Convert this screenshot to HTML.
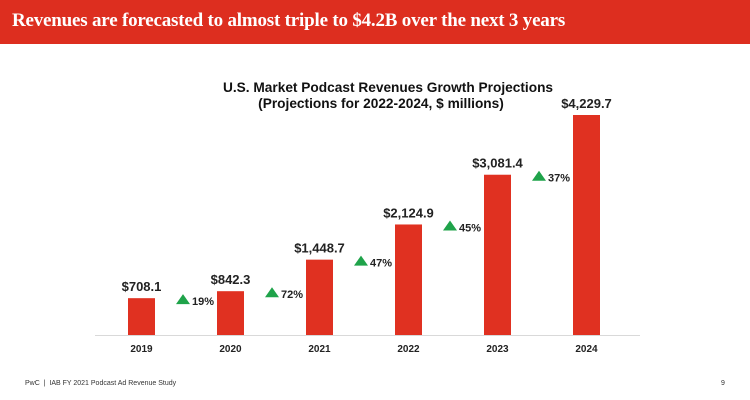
<!DOCTYPE html>
<html><head><meta charset="utf-8"><style>
body{margin:0;width:750px;height:400px;overflow:hidden;background:#fff;font-family:"Liberation Sans",sans-serif}
#hdr{position:absolute;left:0;top:0;width:750px;height:44px;background:#dd2e1f}
#hdr span{position:absolute;left:12px;top:10px;color:#fff;font-family:"Liberation Serif",serif;font-weight:bold;font-size:19px;letter-spacing:-0.2px}
.ft{position:absolute;top:380px;font-size:7px;color:#333}
</style></head><body>
<div id="hdr"><span>Revenues are forecasted to almost triple to $4.2B over the next 3 years</span></div>
<svg id="c" width="750" height="400" style="position:absolute;left:0;top:0">
<text x="388" y="92" text-anchor="middle" font-weight="bold" font-size="13.7" fill="#111">U.S. Market Podcast Revenues Growth Projections</text>
<text x="381" y="108" text-anchor="middle" font-weight="bold" font-size="13.7" fill="#111">(Projections for 2022-2024, $ millions)</text>
</svg>
<div class="ft" style="left:25px">PwC &nbsp;|&nbsp; IAB FY 2021 Podcast Ad Revenue Study</div>
<div class="ft" style="left:721px">9</div>
<script>
const categories=["2019","2020","2021","2022","2023","2024"];
const values=[708.1,842.3,1448.7,2124.9,3081.4,4229.7];
const valueLabels=["$708.1","$842.3","$1,448.7","$2,124.9","$3,081.4","$4,229.7"];
const growthLabels=["19%","72%","47%","45%","37%"];
const svg=document.getElementById('c');const NS='http://www.w3.org/2000/svg';
const base=335,scale=220/4229.7,x0=141.5,step=89,bw=27;
const xs=i=>x0+i*step, ys=v=>base-v*scale;
function mk(t,a){const e=document.createElementNS(NS,t);for(const k in a)e.setAttribute(k,a[k]);svg.appendChild(e);return e;}
const ax=mk('line',{x1:95,x2:640,y1:base+0.5,y2:base+0.5,stroke:'#d9d9d9'});


categories.forEach((c,i)=>{
 const r=mk('rect',{x:xs(i)-bw/2,y:ys(values[i]),width:bw,height:values[i]*scale,fill:'#e03121'});
 
 
 const l=mk('text',{x:xs(i),y:ys(values[i])-7,'text-anchor':'middle','font-weight':'bold','font-size':13,fill:'#222'});l.textContent=valueLabels[i];
 
 
 const t=mk('text',{x:xs(i),y:base+17,'text-anchor':'middle','font-weight':'bold','font-size':10,fill:'#222'});t.textContent=c;
 
 
});
growthLabels.forEach((g,i)=>{
 const cx=xs(i)+step/2-3,cy=ys(values[i])+6;
 const tr=mk('polygon',{points:`${cx-7},${cy} ${cx+7},${cy} ${cx},${cy-10}`,fill:'#1fa34a'});
 
 
 const t=mk('text',{x:cx+9,y:cy+1,'font-weight':'bold','font-size':11,fill:'#222'});t.textContent=g;
 
 
});
</script>
</body></html>
